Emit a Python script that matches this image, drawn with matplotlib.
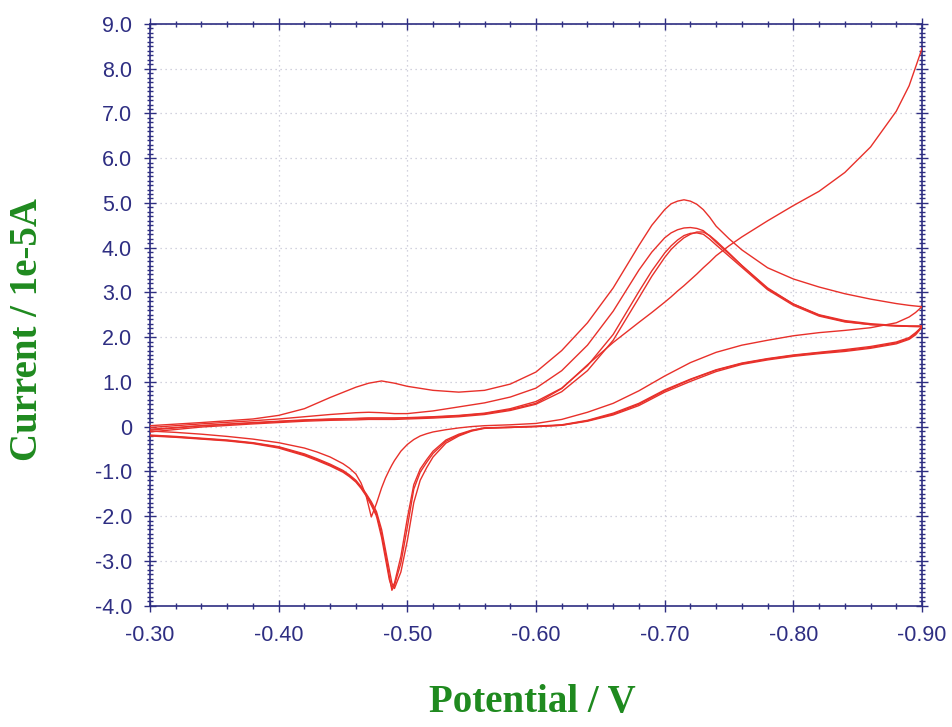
"""Cyclic voltammogram: several successive sweeps between -0.30 V and -0.90 V."""

import matplotlib
matplotlib.use("Agg")
import matplotlib.pyplot as plt  # noqa: E402
from matplotlib.ticker import MultipleLocator  # noqa: E402

RED = "#e8302a"
NAVY = "#2e2e82"
GREEN = "#1f8a1f"
GRID = "#c4c4d4"

# potential grid for the cathodic (forward) sweeps, V
E_FWD = [-0.30, -0.34, -0.38, -0.40, -0.42, -0.44, -0.46, -0.47, -0.48, -0.49,
         -0.50, -0.52, -0.54, -0.56, -0.58, -0.60, -0.62, -0.64, -0.66, -0.68,
         -0.69, -0.70, -0.705, -0.71, -0.715, -0.72, -0.725, -0.73, -0.735, -0.74,
         -0.75, -0.76, -0.78, -0.80, -0.82, -0.84, -0.86, -0.88, -0.89, -0.90]

# forward currents, 1e-5 A
I_F1 = [-0.06, 0.02, 0.08, 0.11, 0.14, 0.16, 0.18, 0.19, 0.19, 0.19,
        0.19, 0.21, 0.24, 0.29, 0.38, 0.52, 0.85, 1.38, 1.88, 2.33,
        2.55, 2.78, 2.90, 3.03, 3.15, 3.28, 3.41, 3.55, 3.68, 3.82,
        4.04, 4.24, 4.60, 4.94, 5.26, 5.68, 6.25, 7.05, 7.62, 8.45]
I_F2 = [0.02, 0.09, 0.17, 0.25, 0.40, 0.65, 0.88, 0.97, 1.02, 0.97,
        0.90, 0.81, 0.77, 0.81, 0.95, 1.22, 1.70, 2.32, 3.10, 4.05,
        4.50, 4.85, 4.98, 5.04, 5.07, 5.04, 4.97, 4.85, 4.68, 4.48,
        4.20, 3.95, 3.55, 3.30, 3.12, 2.97, 2.85, 2.75, 2.71, 2.68]
I_F3 = [-0.02, 0.06, 0.13, 0.17, 0.22, 0.27, 0.31, 0.32, 0.31, 0.29,
        0.29, 0.35, 0.44, 0.53, 0.66, 0.86, 1.25, 1.82, 2.58, 3.50,
        3.90, 4.22, 4.33, 4.40, 4.44, 4.45, 4.43, 4.38, 4.26, 4.12,
        3.86, 3.60, 3.08, 2.74, 2.50, 2.37, 2.30, 2.26, 2.25, 2.25]
I_F4 = [-0.08, 0.02, 0.09, 0.12, 0.15, 0.17, 0.18, 0.19, 0.19, 0.19,
        0.20, 0.22, 0.25, 0.30, 0.40, 0.56, 0.86, 1.36, 2.06, 3.02,
        3.48, 3.88, 4.04, 4.17, 4.27, 4.32, 4.33, 4.30, 4.19, 4.06,
        3.81, 3.56, 3.06, 2.71, 2.47, 2.34, 2.28, 2.25, 2.24, 2.24]
I_F5 = [-0.12, -0.01, 0.06, 0.09, 0.12, 0.14, 0.15, 0.16, 0.16, 0.16,
        0.17, 0.19, 0.22, 0.27, 0.36, 0.50, 0.78, 1.25, 1.93, 2.88,
        3.36, 3.78, 3.96, 4.10, 4.22, 4.30, 4.35, 4.35, 4.27, 4.15,
        3.88, 3.60, 3.10, 2.74, 2.49, 2.35, 2.28, 2.25, 2.24, 2.23]

# potential grid for the anodic (reverse) sweeps, V
E_REV = [-0.90, -0.895, -0.89, -0.88, -0.86, -0.84, -0.82, -0.80, -0.78, -0.76,
         -0.74, -0.72, -0.70, -0.68, -0.66, -0.64, -0.62, -0.60, -0.58, -0.56,
         -0.55, -0.54, -0.53, -0.52, -0.515, -0.51, -0.505, -0.50, -0.495, -0.49,
         -0.488, -0.486, -0.483, -0.48, -0.476, -0.472, -0.468, -0.464, -0.46, -0.455,
         -0.45, -0.44, -0.43, -0.42, -0.40, -0.38, -0.36, -0.34, -0.32, -0.30]

I_R1 = [2.24, 2.08, 1.97, 1.87, 1.77, 1.70, 1.65, 1.59, 1.51, 1.41,
        1.26, 1.05, 0.80, 0.50, 0.28, 0.13, 0.03, 0.00, -0.02, -0.03,
        -0.09, -0.19, -0.33, -0.60, -0.80, -1.02, -1.40, -2.25, -3.05, -3.55,
        -3.66, -3.35, -2.85, -2.40, -1.95, -1.72, -1.52, -1.36, -1.22, -1.10,
        -1.00, -0.86, -0.74, -0.63, -0.46, -0.37, -0.31, -0.27, -0.23, -0.20]
I_R2 = [2.68, 2.55, 2.45, 2.32, 2.21, 2.15, 2.10, 2.03, 1.93, 1.82,
        1.66, 1.43, 1.13, 0.80, 0.52, 0.32, 0.16, 0.07, 0.04, 0.02,
        0.00, -0.03, -0.07, -0.12, -0.16, -0.21, -0.29, -0.40, -0.55, -0.76,
        -0.86, -0.97, -1.15, -1.37, -1.72, -2.02, -1.55, -1.26, -1.06, -0.93,
        -0.83, -0.68, -0.57, -0.48, -0.36, -0.28, -0.22, -0.17, -0.13, -0.10]
I_R3 = [2.22, 2.05, 1.95, 1.85, 1.75, 1.68, 1.63, 1.57, 1.49, 1.39,
        1.23, 1.01, 0.77, 0.47, 0.26, 0.12, 0.03, 0.00, -0.02, -0.04,
        -0.10, -0.21, -0.37, -0.68, -0.92, -1.20, -1.70, -2.55, -3.25, -3.62,
        -3.50, -3.20, -2.75, -2.30, -1.90, -1.68, -1.50, -1.34, -1.20, -1.08,
        -0.98, -0.84, -0.72, -0.61, -0.45, -0.36, -0.30, -0.26, -0.22, -0.19]
I_R4 = [2.23, 2.10, 1.99, 1.89, 1.79, 1.72, 1.66, 1.60, 1.52, 1.42,
        1.27, 1.06, 0.82, 0.52, 0.30, 0.14, 0.04, 0.01, -0.01, -0.03,
        -0.08, -0.17, -0.30, -0.55, -0.74, -0.95, -1.30, -2.05, -2.90, -3.50,
        -3.60, -3.42, -2.95, -2.48, -2.00, -1.76, -1.55, -1.38, -1.24, -1.12,
        -1.02, -0.88, -0.76, -0.65, -0.48, -0.38, -0.32, -0.28, -0.24, -0.21]

X_TICKS = [-0.30, -0.40, -0.50, -0.60, -0.70, -0.80, -0.90]
Y_TICKS = [9, 8, 7, 6, 5, 4, 3, 2, 1, 0, -1, -2, -3, -4]


def main():
    plt.rcParams.update({
        "font.family": ["Liberation Sans", "DejaVu Sans"],
    })
    fig = plt.figure(figsize=(9.52, 7.27), dpi=100)
    ax = fig.add_axes([150 / 952, 1 - 605.5 / 727, 772 / 952, 581.5 / 727])

    for fwd in (I_F1, I_F2, I_F3, I_F4, I_F5):
        ax.plot(E_FWD, fwd, color=RED, lw=1.0, zorder=3)
    for rev in (I_R1, I_R2, I_R3, I_R4):
        ax.plot(E_REV, rev, color=RED, lw=1.0, zorder=3)

    ax.set_xlim(-0.30, -0.90)
    ax.set_ylim(-4.0, 9.0)
    ax.set_xticks(X_TICKS)
    ax.set_xticklabels([f"{v:.2f}" for v in X_TICKS])
    ax.set_yticks(Y_TICKS)
    ax.set_yticklabels(["0" if v == 0 else f"{v:.1f}" for v in Y_TICKS])
    ax.xaxis.set_minor_locator(MultipleLocator(0.02))
    ax.yaxis.set_minor_locator(MultipleLocator(0.1))

    ax.tick_params(which="both", direction="inout", color=NAVY, width=1.0,
                   top=True, right=True)
    ax.tick_params(which="major", length=8)
    ax.tick_params(which="minor", length=4)
    ax.tick_params(axis="x", which="major", labelsize=15.5, labelcolor=NAVY, pad=10)
    ax.tick_params(axis="y", which="major", labelsize=15.5, labelcolor=NAVY, pad=9)
    for sp in ax.spines.values():
        sp.set_color(NAVY)
        sp.set_linewidth(1.2)

    ax.grid(True, which="major", color=GRID, lw=0.9, ls=(0, (1, 3)))
    ax.set_axisbelow(True)

    fig.text(532 / 952, 1 - 712 / 727, "Potential / V", ha="center", va="baseline",
             family="Liberation Serif", fontweight="bold", fontsize=28, color=GREEN)
    fig.text(28 / 952, 1 - 330 / 727, "Current / 1e-5A", ha="center", va="center",
             rotation=90, family="Liberation Serif", fontweight="bold",
             fontsize=28, color=GREEN)

    fig.savefig("out.png", dpi=100)


if __name__ == "__main__":
    main()
